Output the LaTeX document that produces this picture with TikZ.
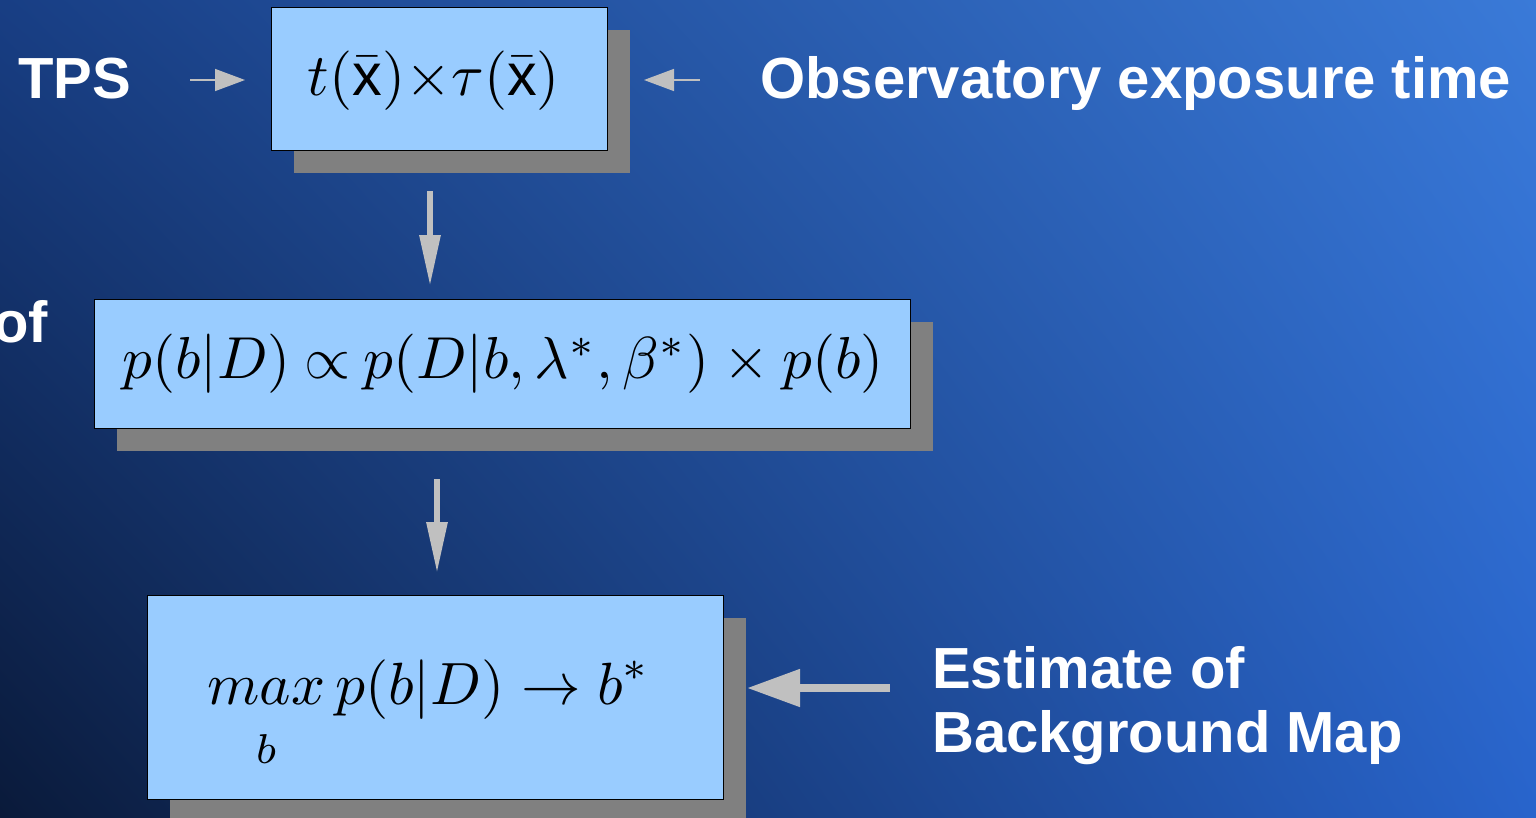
\documentclass[tikz,border=0pt]{standalone}
\usepackage{fontspec}
\setmainfont{Liberation Sans}
\usetikzlibrary{arrows.meta,shadows,shadings}
\definecolor{boxfill}{HTML}{99CCFF}
\definecolor{shadowgray}{HTML}{808080}
\definecolor{arrowgray}{HTML}{C0C0C0}
\definecolor{bgUL}{HTML}{183E84}
\definecolor{bgUR}{HTML}{3A7AD8}
\definecolor{bgLL}{HTML}{0A1A3A}
\definecolor{bgLR}{HTML}{2864CC}
\tikzset{
  fbox/.style={draw=black, line width=1pt, fill=boxfill, inner sep=0pt, anchor=north west,
    drop shadow={shadow xshift=22pt, shadow yshift=-22pt, fill=shadowgray, opacity=1}},
  label/.style={text=white, font=\fontsize{58}{64}\selectfont\bfseries, inner sep=0pt},
  formula/.style={inner sep=0pt, text=black},
  thinarrow/.style={draw=arrowgray, line width=1.5pt, -{Triangle[width=22pt,length=30pt]}, arrowgray},
  midarrow/.style={draw=arrowgray, line width=6pt, -{Triangle[width=20pt,length=51pt]}, arrowgray},
  widearrow/.style={draw=arrowgray, line width=8pt, -{Triangle[width=36pt,length=53pt]}, arrowgray}
}
\begin{document}
\begin{tikzpicture}[x=1pt,y=-1pt]
\useasboundingbox (0,0) rectangle (1536,817);
\clip (0,0) rectangle (1536,817);
\shade[upper left=bgUL, upper right=bgUR, lower left=bgLL, lower right=bgLR] (0,0) rectangle (1536,817);

% boxes
\node[fbox, minimum width=336pt, minimum height=143pt] (box1) at (271,7) {};
\node[fbox, minimum width=816pt, minimum height=129pt] (box2) at (94,299) {};
\node[fbox, minimum width=576pt, minimum height=204pt] (box3) at (147,595) {};

% formulas
\node[formula] (f1) at (434,81) {\resizebox{252pt}{!}{$t(\bar{\mathrm{x}}){\times}\tau(\bar{\mathrm{x}})$}};
\node[formula] (f2) at (503,364) {\resizebox{761pt}{!}{$p(b|D)\mathbin{\propto} p(D|b,\lambda^{*},\beta^{*})\mathbin{\times} p(b)$}};
\node[formula, anchor=north west] (f3) at (207,660) {\resizebox{443pt}{!}{$\displaystyle \mathop{max}\limits_{\rule{0pt}{0.82em}b} p(b|D)\rightarrow b^{*}$}};

% labels
\node[label, anchor=base west] (tps) at (18,98) {TPS};
\node[label, anchor=base west] (obs) at (760,98) {Observatory exposure time};
\node[label, anchor=base east] (of) at (48,342) {of};
\node[label, anchor=base west] (est1) at (932,688) {Estimate of};
\node[label, anchor=base west] (est2) at (932,752) {Background Map};

% arrow end points
\coordinate (a1s) at (190,80);
\coordinate (a1e) at (245,80);
\coordinate (a2s) at (700,80);
\coordinate (a2e) at (644,80);
\coordinate (a3s) at (430,191);
\coordinate (a3e) at (430,286);
\coordinate (a4s) at (437,479);
\coordinate (a4e) at (437,573);
\coordinate (a5s) at (890,688);
\coordinate (a5e) at (747,688);

\draw[thinarrow] (a1s) -- (a1e);
\draw[thinarrow] (a2s) -- (a2e);
\draw[midarrow] (a3s) -- (a3e);
\draw[midarrow] (a4s) -- (a4e);
\draw[widearrow] (a5s) -- (a5e);
\end{tikzpicture}
\end{document}
